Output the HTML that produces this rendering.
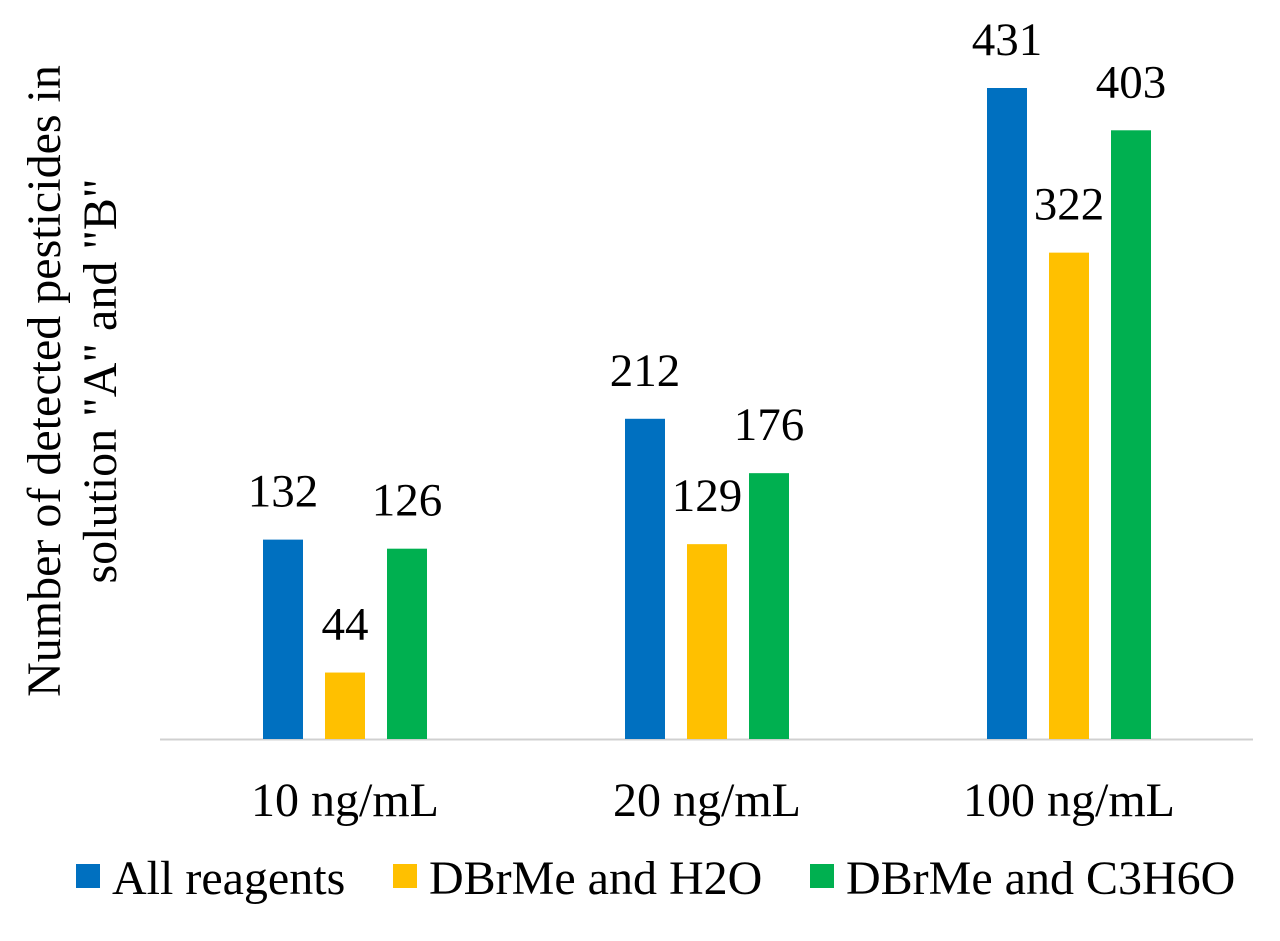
<!DOCTYPE html>
<html><head><meta charset="utf-8"><style>
body{margin:0;background:#fff}
svg{display:block;font-family:"Liberation Serif",serif}
</style></head><body>
<svg id="chart" width="1280" height="941">
<line x1="160" y1="739.5" x2="1253" y2="739.5" stroke="#d0d0d0" stroke-width="2"/>
<g id="bars"></g>
<text transform="translate(60,381) rotate(-90)" text-anchor="middle" font-size="48">Number of detected pesticides in</text>
<text transform="translate(116,381) rotate(-90)" text-anchor="middle" font-size="48">solution "A" and "B"</text>
<g>
<rect x="76" y="864" width="24" height="24" fill="#0070C0"/>
<text x="112" y="894" font-size="48">All reagents</text>
<rect x="393" y="864" width="24" height="24" fill="#FFC000"/>
<text x="429" y="894" font-size="48">DBrMe and H2O</text>
<rect x="810" y="864" width="24" height="24" fill="#00B050"/>
<text x="846" y="894" font-size="48">DBrMe and C3H6O</text>
</g>
</svg>
<script>
const categories=["10 ng/mL","20 ng/mL","100 ng/mL"];
const allReagents=[132,212,431];
const h2o=[44,129,322];
const c3h6o=[126,176,403];
const seriesNames=["all-reagents","h2o","c3h6o"];
const colors=["#0070C0","#FFC000","#00B050"];
const series=[allReagents,h2o,c3h6o];
const NS="http://www.w3.org/2000/svg";
const g=document.getElementById('bars');
const x0=164,band=362,base=739,scale=651/431;
function xc(i){return x0+band*(i+0.5);}
function y(v){return base-v*scale;}
categories.forEach((c,i)=>{
  const t=document.createElementNS(NS,'text');
  t.setAttribute('x',xc(i));t.setAttribute('y',816);t.setAttribute('text-anchor','middle');t.setAttribute('font-size','48');
  t.textContent=c;
  
  
  g.appendChild(t);
  series.forEach((s,j)=>{
    const cx=xc(i)+(j-1)*62;
    const r=document.createElementNS(NS,'rect');
    r.setAttribute('x',cx-20);r.setAttribute('width',40);r.setAttribute('y',y(s[i]));r.setAttribute('height',base-y(s[i]));r.setAttribute('fill',colors[j]);
    
    
    g.appendChild(r);
    const l=document.createElementNS(NS,'text');
    l.setAttribute('x',cx);l.setAttribute('y',y(s[i])-33);l.setAttribute('text-anchor','middle');l.setAttribute('font-size','47');
    l.textContent=s[i];
    
    
    g.appendChild(l);
  });
});
</script>
</body></html>
